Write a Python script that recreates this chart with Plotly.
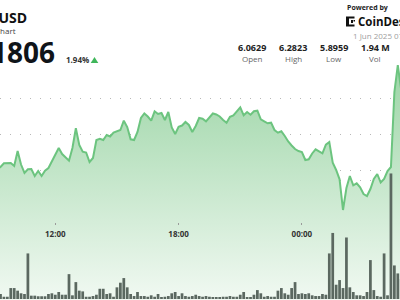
import plotly.graph_objects as go
import pandas as pd

# ---- data (10-minute samples, UTC) ----
start_time = "2025-05-31 09:10"
prices = [
    6.0052, 6.0106, 6.0204, 6.0212, 6.0212, 6.0132, 6.0532, 6.0172, 5.9946, 6.0044,
    6.0052, 5.9866, 5.9999, 5.9866, 6.0007, 6.0079, 6.0266, 6.0460, 6.0612, 6.0452,
    6.0351, 6.0274, 6.0612, 6.1138, 6.0692, 6.0514, 6.0492, 6.0239, 6.0346, 6.0826,
    6.0860, 6.0826, 6.0959, 6.0919, 6.1026, 6.1066, 6.1092, 6.1340, 6.1172, 6.0844,
    6.0826, 6.1039, 6.1412, 6.1532, 6.1452, 6.1340, 6.1591, 6.1519, 6.1546, 6.1359,
    6.1572, 6.1159, 6.0986, 6.1180, 6.1212, 6.1306, 6.1226, 6.1039, 6.1199, 6.1412,
    6.1394, 6.1324, 6.1439, 6.1532, 6.1506, 6.1452, 6.1359, 6.1287, 6.1447, 6.1484,
    6.1591, 6.1698, 6.1484, 6.1572, 6.1500, 6.1591, 6.1607, 6.1378, 6.1324, 6.1271,
    6.1287, 6.1092, 6.1020, 6.1058, 6.0932, 6.0786, 6.0679, 6.0586, 6.0532, 6.0506,
    6.0292, 6.0311, 6.0466, 6.0578, 6.0524, 6.0471, 6.0700, 6.0772, 6.0220, 6.0026,
    5.9778, 5.8959, 5.9546, 5.9866, 5.9618, 5.9671, 5.9564, 5.9386, 5.9332, 5.9519,
    5.9786, 5.9919, 5.9692, 5.9786, 5.9999, 6.0106, 6.2106, 6.2823, 6.2159, 6.1892,
]
volumes_k = [
    3.4, 4.2, 1.9, 1.9, 9.2, 9.2, 7.0, 4.8, 4.2, 38.3,
    2.8, 2.8, 2.3, 2.3, 2.3, 4.2, 4.8, 3.6, 5.9, 3.6,
    3.6, 20.9, 3.1, 14.2, 7.0, 6.4, 1.9, 1.9, 2.5, 3.6,
    8.6, 8.6, 4.2, 4.8, 1.9, 9.8, 13.7, 17.6, 9.8, 4.2,
    2.5, 5.9, 2.5, 2.5, 1.9, 3.1, 1.9, 4.2, 1.4, 1.9,
    2.5, 4.8, 5.9, 2.5, 4.8, 2.5, 1.9, 2.5, 3.6, 2.5,
    1.9, 2.5, 1.9, 1.4, 1.4, 1.4, 1.9, 1.9, 2.5, 1.9,
    1.9, 3.6, 5.9, 1.4, 1.4, 3.6, 7.5, 4.8, 1.9, 2.5,
    1.9, 1.9, 7.0, 9.2, 4.8, 3.6, 9.2, 14.2, 4.2, 4.8,
    4.2, 4.8, 3.1, 2.5, 2.5, 4.2, 3.6, 38.3, 55.5, 12.0,
    15.9, 9.2, 51.7, 9.8, 5.9, 3.1, 3.1, 2.5, 5.9, 32.7,
    7.5, 2.5, 1.9, 38.3, 3.1, 105.5, 28.2, 21.5, 16.8, 12.6,
]
times = pd.date_range(start_time, periods=len(prices), freq="10min")

stat_values = ["6.0629", "6.2823", "5.8959", "1.94 M"]
stat_labels = ["Open", "High", "Low", "Vol"]

W, H = 400, 300
def px(x):
    return x / W
def py(y):
    return 1 - y / H

FONT = "Open Sans"

fig = go.Figure()
fig.add_trace(go.Scatter(
    x=times, y=prices, mode="lines",
    line=dict(color="#6cc47f", width=2),
    fill="tozeroy",
    fillgradient=dict(type="vertical",
                      colorscale=[[0, "rgb(241,249,242)"], [1, "rgb(156,213,166)"]],
                      start=5.6559, stop=6.2823),
    hoverinfo="skip",
))
fig.add_trace(go.Bar(
    x=times, y=volumes_k, yaxis="y2",
    marker=dict(color="#5b6860", line=dict(width=0)),
    hoverinfo="skip",
))

grid = dict(showgrid=True, gridcolor="#b8b8b8", gridwidth=1, griddash="1px,9px",
            zeroline=False, showline=False, showticklabels=False, ticks="")

fig.update_layout(
    width=W, height=H, margin=dict(l=0, r=0, t=0, b=0),
    paper_bgcolor="white", plot_bgcolor="white", showlegend=False,
    bargap=0.2,
    xaxis=dict(type="date",
               range=["2025-05-31 09:18:32", "2025-06-01 04:46:25"],
               anchor="free", position=py(224.5), side="bottom",
               ticks="inside", ticklen=2, tickwidth=1, tickcolor="#9a9a9a",
               tick0="2025-05-31 00:00", dtick=21600000, tickformat="%H:%M",
               tickfont=dict(family=FONT, size=8, color="#333", weight="bold"),
               ticklabelstandoff=3,
               showgrid=False, zeroline=False, showline=False),
    yaxis=dict(range=[5.6559, 6.4559], tickvals=[5.904, 6.0, 6.096, 6.192], **grid),
    yaxis2=dict(range=[-0.8375, 251.25], overlaying="y", tickvals=[50, 100], **grid),
)

ann = []
def text(x, y, s, size, color, xanchor="left", bold=False):
    ann.append(dict(x=px(x), y=py(y), xref="paper", yref="paper", text=("<b>%s</b>" % s) if bold else s,
                    showarrow=False, xanchor=xanchor, yanchor="middle", borderpad=0,
                    font=dict(family=FONT, size=size, color=color)))

text(28.5, 17.5, "-USD", 14, "#111", "right", True)
text(16.5, 31, "Chart", 8, "#444", "right")
text(55.5, 52, "1806", 28, "#0f1419", "right", True)
text(64.5, 59.5, "1.94%", 8, "#333", "left", True)
text(345.5, 7.5, "Powered by", 7, "#222", "left", True)
text(356.5, 21.5, "CoinDesk", 11.5, "#111", "left", True)
text(351.5, 35.5, "1 Jun 2025 07:", 8, "#a0a0a0", "left")
for cx, v, l in zip([252, 293, 333.7, 375.3], stat_values, stat_labels):
    text(cx, 47.5, v, 9, "#222", "center", True)
    text(cx, 58.3, l, 8, "#666", "center")

shapes = [
    dict(type="path", xref="paper", yref="paper",
         path="M %f,%f L %f,%f L %f,%f Z" % (px(90.7), py(63), px(98.3), py(63), px(94.5), py(57)),
         fillcolor="#3fb65a", line=dict(width=0)),
]
# CoinDesk logo glyph
for (x0, y0, x1, y1) in [(346, 16.5, 349, 26.5), (349, 16.5, 354.5, 18.5), (349, 24.5, 354.5, 26.5),
                         (351, 20, 353, 23), (353.5, 20, 355, 21.5)]:
    shapes.append(dict(type="rect", xref="paper", yref="paper", x0=px(x0), x1=px(x1), y0=py(y0), y1=py(y1),
                       fillcolor="#111", line=dict(width=0)))

fig.update_layout(annotations=ann, shapes=shapes)
fig.write_html("out.html")
